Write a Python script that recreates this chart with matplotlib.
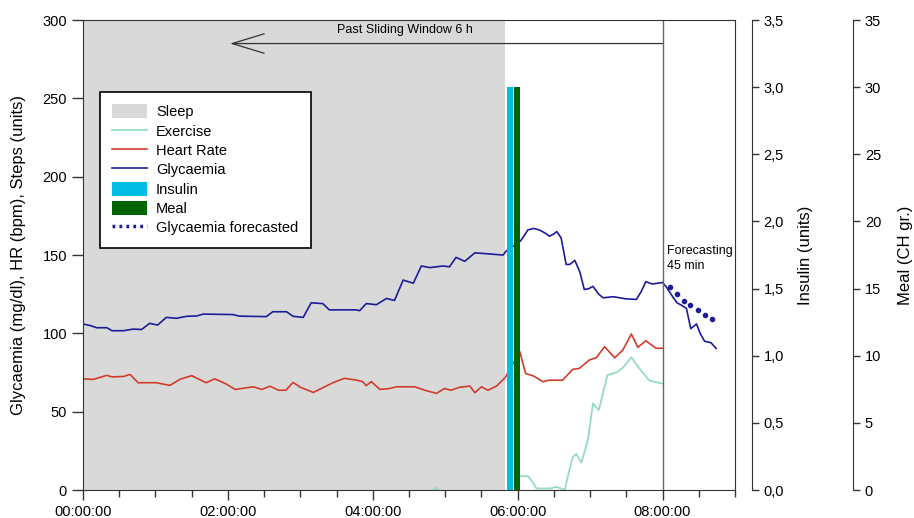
import matplotlib
matplotlib.use('Agg')
import matplotlib.pyplot as plt
from matplotlib.patches import Patch
from matplotlib.lines import Line2D
from matplotlib.ticker import FuncFormatter, MultipleLocator

plt.rcParams['font.family'] = ['Liberation Sans', 'DejaVu Sans']

# time in hours since 00:00:00
sleep_end = 5.82

glyc_t = [0, 0.1, 0.19, 0.33, 0.40, 0.56, 0.69, 0.81, 0.92, 1.03, 1.15, 1.29, 1.43, 1.57,
          1.66, 2.07, 2.16, 2.53, 2.62, 2.81, 2.90, 3.04, 3.15, 3.31, 3.40, 3.77, 3.82, 3.91,
          4.05, 4.19, 4.30, 4.42, 4.56, 4.67, 4.79, 4.97, 5.06, 5.15, 5.27, 5.41, 5.80, 5.84,
          6.04, 6.10, 6.14, 6.22, 6.30, 6.38, 6.44, 6.50, 6.54, 6.60, 6.67, 6.72, 6.79, 6.86,
          6.92, 6.98, 7.04, 7.12, 7.18, 7.32, 7.50, 7.64, 7.71, 7.77, 7.86, 8.00, 8.05, 8.14,
          8.20, 8.26, 8.33, 8.39, 8.47, 8.52, 8.58, 8.67, 8.74]
glyc_v = [106, 105, 103.6, 103.6, 101.7, 101.7, 102.7, 102.5, 106.4, 105.3, 110.2, 109.6, 110.9, 111.1,
          112.3, 112, 111, 110.7, 113.8, 113.8, 110.9, 110.2, 119.5, 119, 115, 115, 114.5, 119,
          118.3, 122.3, 121, 134, 132, 143, 142, 143, 142.5, 148.5, 146, 151.4, 150, 152.5,
          159, 163, 166, 167, 166, 164, 162, 163.5, 165, 161, 144, 144, 146.6, 139,
          128, 128.5, 130, 125, 122.7, 123.4, 122, 121.7, 127, 133, 131.5, 132.5, 129.8, 123.4,
          119.5, 118, 116, 103, 106, 100, 95, 94, 90.4]

hr_t = [0, 0.14, 0.33, 0.40, 0.56, 0.65, 0.76, 1.01, 1.20, 1.34, 1.50, 1.70, 1.82, 1.98, 2.10,
        2.35, 2.47, 2.58, 2.70, 2.80, 2.90, 3.00, 3.18, 3.45, 3.61, 3.77, 3.86, 3.91, 3.98, 4.10,
        4.23, 4.33, 4.58, 4.72, 4.88, 4.99, 5.08, 5.20, 5.34, 5.41, 5.50, 5.59, 5.71, 5.83, 6.03,
        6.11, 6.22, 6.35, 6.43, 6.62, 6.76, 6.85, 6.99, 7.09, 7.20, 7.34, 7.45, 7.57, 7.66, 7.77,
        7.91, 8.00]
hr_v = [71, 70.6, 73.2, 72.2, 72.5, 73.8, 68.5, 68.5, 66.8, 70.7, 73, 68.5, 71, 67.6, 64.2,
        65.9, 64.2, 66.3, 63.7, 63.7, 68.7, 65.6, 62.3, 68.5, 71.3, 70.2, 69.2, 66.6, 69.2, 64.2,
        64.8, 65.9, 65.9, 63.7, 61.7, 64.8, 63.7, 65.6, 66.4, 62.1, 65.9, 63.7, 66.4, 71.9, 88.3,
        74.4, 72.8, 69.1, 70.1, 70.1, 77, 77.6, 83, 84.6, 91.5, 84.4, 89.2, 99.6, 91.1, 95.3,
        90.5, 90.5]

ex_t = [4.84, 4.88, 4.92, float('nan'), 6.04, 6.15, 6.22, 6.26, 6.45, 6.53, 6.60, 6.65, 6.71,
        6.76, 6.81, 6.88, 6.97, 7.04, 7.12, 7.24, 7.36, 7.45, 7.57, 7.68, 7.82, 8.00]
ex_v = [0, 1.5, 0, float('nan'), 8.9, 8.7, 4, 1, 1, 2, 1, 0, 12,
        21, 23, 17.4, 32, 55.3, 51, 73.4, 75, 78, 84.7, 77.6, 69.8, 68]

fc_t = [8.10, 8.20, 8.29, 8.38, 8.49, 8.59, 8.69]
fc_v = [129.5, 125.2, 120.9, 118.1, 114.9, 111.7, 109.3]

insulin_t, insulin_units = 5.895, 3.0
meal_t, meal_ch = 5.99, 30.0

window_start, window_end = 2.03, 8.0

c_sleep = '#d9d9d9'
c_ex = '#95dac7'
c_hr = '#d23c2c'
c_gly = '#1c1c9a'
c_ins = '#00bde3'
c_meal = '#006400'
c_frame = '#333333'

fig = plt.figure(figsize=(9.14, 5.18), dpi=100)
ax = fig.add_axes([0.0908, 0.054, 0.7133, 0.9073])

ax.axvspan(0, sleep_end, color=c_sleep, lw=0, zorder=0)
ax.plot(ex_t, ex_v, color=c_ex, lw=1.3)
ax.plot(hr_t, hr_v, color=c_hr, lw=1.2)
ax.plot(glyc_t, glyc_v, color=c_gly, lw=1.2)
ax.plot(fc_t, fc_v, ls='none', marker='o', ms=3.0, color=c_gly)

ax.axvline(window_end, color='#666666', lw=1)
ax.annotate('', xy=(window_start, 285), xytext=(window_end, 285),
            arrowprops=dict(arrowstyle='->,head_length=2.3,head_width=0.7', color=c_frame,
                            lw=0.9, shrinkA=0, shrinkB=0, mutation_scale=10))
ax.text(4.44, 293.5, 'Past Sliding Window 6 h', fontsize=9, ha='center', va='center')
ax.text(8.06, 148, 'Forecasting\n45 min', fontsize=9, ha='left', va='center', linespacing=1.35)

ax.set_xlim(0, 9)
ax.set_ylim(0, 300)
ax.xaxis.set_major_locator(MultipleLocator(2))
ax.xaxis.set_minor_locator(MultipleLocator(0.5))
ax.xaxis.set_major_formatter(FuncFormatter(lambda h, p: '%02d:00:00' % int(round(h))))
ax.yaxis.set_major_locator(MultipleLocator(50))
ax.tick_params(axis='x', which='major', length=7, width=1, labelsize=10.5, color=c_frame)
ax.tick_params(axis='x', which='minor', length=5, width=1, color=c_frame)
ax.tick_params(axis='y', length=8, width=1, labelsize=10.5, color=c_frame)
ax.set_ylabel('Glycaemia (mg/dl), HR (bpm), Steps (units)', fontsize=12, labelpad=12)
for s in ax.spines.values():
    s.set_color(c_frame)

# insulin axis
ax_ins = ax.twinx()
ax_ins.bar(insulin_t, insulin_units, width=0.095, color=c_ins, lw=0)
ax_ins.set_ylim(0, 3.5)
ax_ins.yaxis.set_major_locator(MultipleLocator(0.5))
ax_ins.yaxis.set_major_formatter(FuncFormatter(lambda v, p: ('%.1f' % v).replace('.', ',')))
ax_ins.spines['right'].set_position(('axes', 1.026))
ax_ins.set_ylabel('Insulin (units)', fontsize=12, labelpad=10)

# meal axis
ax_meal = ax.twinx()
ax_meal.bar(meal_t, meal_ch, width=0.09, color=c_meal, lw=0)
ax_meal.set_ylim(0, 35)
ax_meal.yaxis.set_major_locator(MultipleLocator(5))
ax_meal.spines['right'].set_position(('axes', 1.181))
ax_meal.set_ylabel('Meal (CH gr.)', fontsize=12, labelpad=12)

for a in (ax_ins, ax_meal):
    for side in ('top', 'left', 'bottom'):
        a.spines[side].set_visible(False)
    a.spines['right'].set_color(c_frame)
    a.tick_params(axis='y', length=5, width=1, labelsize=10.5, color=c_frame)

handles = [
    Patch(facecolor=c_sleep, label='Sleep'),
    Line2D([], [], color=c_ex, lw=1.3, label='Exercise'),
    Line2D([], [], color=c_hr, lw=1.2, label='Heart Rate'),
    Line2D([], [], color=c_gly, lw=1.2, label='Glycaemia'),
    Patch(facecolor=c_ins, label='Insulin'),
    Patch(facecolor=c_meal, label='Meal'),
    Line2D([], [], color=c_gly, lw=2.5, ls=(0, (0.8, 1.2)), label='Glycaemia forecasted'),
]
leg = ax_meal.legend(handles=handles, loc='upper left', bbox_to_anchor=(0.026, 0.847),
                     borderaxespad=0, fontsize=10.5, frameon=True, fancybox=False,
                     edgecolor='black', framealpha=1, handlelength=2.4, handleheight=1.1,
                     handletextpad=0.6, labelspacing=0.3, borderpad=0.85)
leg.get_frame().set_linewidth(1.2)

fig.savefig('out.png', dpi=100)
